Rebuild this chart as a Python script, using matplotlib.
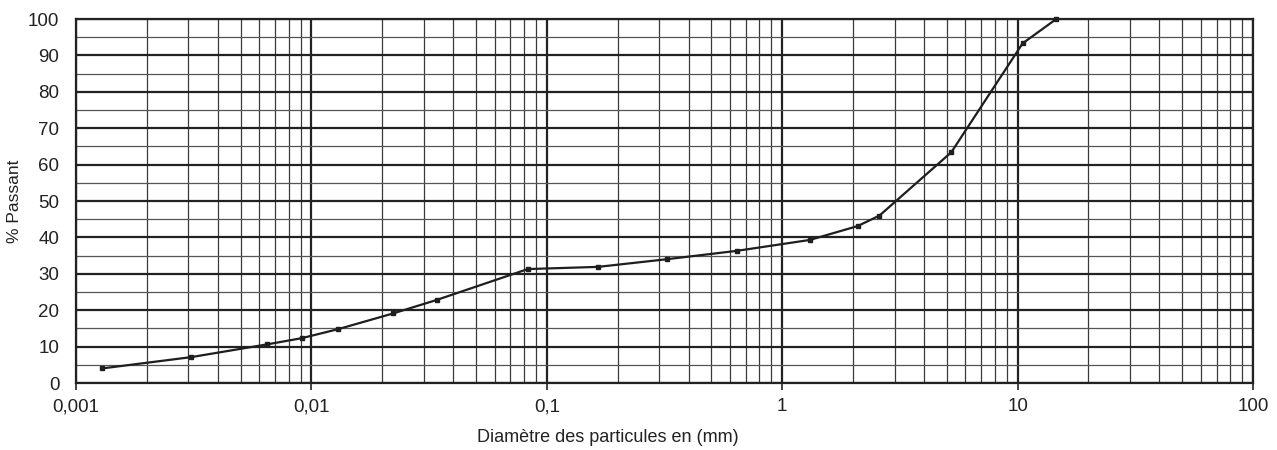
import matplotlib
matplotlib.use("Agg")
import matplotlib.pyplot as plt
from matplotlib.ticker import FixedLocator, FixedFormatter, NullFormatter

# Data
diam_mm = [0.00129, 0.00308, 0.00647, 0.00908, 0.0130, 0.0222, 0.0340, 0.0830,
           0.165, 0.323, 0.641, 1.31, 2.09, 2.59, 5.23, 10.5, 14.6]
passant = [4.0, 7.1, 10.6, 12.3, 14.8, 19.1, 22.8, 31.3,
           31.9, 34.0, 36.3, 39.3, 43.1, 46.0, 63.4, 93.3, 100.0]

x_ticks = [0.001, 0.01, 0.1, 1, 10, 100]
x_tick_labels = ["0,001", "0,01", "0,1", "1", "10", "100"]
y_ticks = list(range(0, 101, 10))

plt.rcParams['font.family'] = ['Liberation Sans', 'DejaVu Sans']

fig = plt.figure(figsize=(12.77, 4.5), dpi=100)
ax = fig.add_axes([76/1277, 1-383/450, (1253-76)/1277, (383-19)/450])
ax.set_xscale('log')
ax.set_xlim(0.001, 100)
ax.set_ylim(0, 100)

# grid
minor_x = [m * 10.0**e for e in range(-3, 2) for m in range(2, 10)]
for xv in minor_x:
    ax.axvline(xv, color='#3a3a3a', lw=0.9, zorder=1)
for xv in x_ticks:
    ax.axvline(xv, color='#222222', lw=1.6, zorder=1)
for yv in range(5, 100, 10):
    ax.axhline(yv, color='#555555', lw=0.9, zorder=1)
for yv in y_ticks:
    ax.axhline(yv, color='#222222', lw=1.6, zorder=1)

ax.plot(diam_mm, passant, color='#1e1e1e', lw=1.6, marker='s', ms=3.5,
        zorder=3, clip_on=False)

ax.xaxis.set_major_locator(FixedLocator(x_ticks))
ax.xaxis.set_major_formatter(FixedFormatter(x_tick_labels))
ax.xaxis.set_minor_locator(FixedLocator(minor_x))
ax.xaxis.set_minor_formatter(NullFormatter())
ax.set_yticks(y_ticks)
ax.tick_params(axis='x', which='major', length=5, width=1.2, labelsize=13.5, pad=6, colors='#222222')
ax.tick_params(axis='x', which='minor', length=0)
ax.tick_params(axis='y', length=0, labelsize=13.5, pad=12, colors='#222222')

for s in ax.spines.values():
    s.set_color('#222222')
    s.set_linewidth(1.6)

fig.text(608/1277, 1-437/450, "Diamètre des particules en (mm)", fontsize=13,
         color='#222222', ha='center', va='center')
fig.text(15/1277, 1-201/450, "% Passant", fontsize=12.5, rotation=90,
         color='#222222', ha='center', va='center')

fig.savefig("out.png", dpi=100)
